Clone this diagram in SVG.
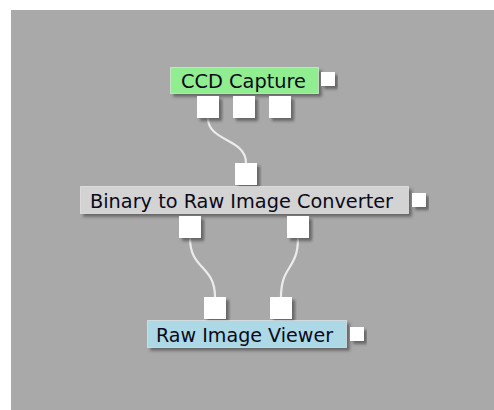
<svg xmlns="http://www.w3.org/2000/svg" width="494" height="410" viewBox="0 0 494 410">
  <defs>
    <filter id="shadow" x="-20%" y="-40%" width="140%" height="180%">
      <feDropShadow dx="3" dy="3" stdDeviation="1.5" flood-color="#4a4a4a" flood-opacity="0.7"/>
    </filter>
    <filter id="soft" x="-20%" y="-20%" width="140%" height="140%">
      <feGaussianBlur stdDeviation="0.5"/>
    </filter>
  </defs>
  <style>
    .node-box { stroke: #ffffff; stroke-opacity: 0.45; stroke-width: 1; filter: url(#shadow); }
    .port { fill: #ffffff; filter: url(#shadow); }
    .label { font-family: "DejaVu Sans", Verdana, sans-serif; font-size: 19px; fill: #0a0a1a; }
    .wire { fill: none; stroke: #ececec; stroke-width: 2.2; filter: url(#soft); }
  </style>

  <!-- canvas -->
  <rect x="11" y="10" width="483" height="400" fill="#a9a9a9"/>

  <!-- connectors -->
  <g id="connectors">
    <path class="wire" d="M208,118 C208,142 246,138 246,163"/>
    <path class="wire" d="M190,238 C190,270 215,265 215,297"/>
    <path class="wire" d="M298,238 C298,270 281,265 281,297"/>
  </g>

  <!-- CCD Capture -->
  <g id="ccd-capture">
    <rect class="node-box" x="170.5" y="67.5" width="148" height="26" fill="#90ee90"/>
    <text class="label" x="181" y="87.5" textLength="125" lengthAdjust="spacingAndGlyphs">CCD Capture</text>
    <rect class="port" x="321" y="72" width="14" height="14"/>
    <rect class="port" x="197" y="96" width="22" height="22"/>
    <rect class="port" x="233" y="96" width="22" height="22"/>
    <rect class="port" x="269" y="96" width="22" height="22"/>
  </g>

  <!-- Binary to Raw Image Converter -->
  <g id="binary-converter">
    <rect class="port" x="235" y="163" width="22" height="22"/>
    <rect class="node-box" x="80.5" y="186.5" width="328" height="27" fill="#d3d3d3"/>
    <text class="label" x="90" y="207.5" textLength="303" lengthAdjust="spacingAndGlyphs">Binary to Raw Image Converter</text>
    <rect class="port" x="412" y="193" width="14" height="14"/>
    <rect class="port" x="179" y="216" width="22" height="22"/>
    <rect class="port" x="287" y="216" width="22" height="22"/>
  </g>

  <!-- Raw Image Viewer -->
  <g id="raw-image-viewer">
    <rect class="port" x="204" y="297" width="22" height="22"/>
    <rect class="port" x="270" y="297" width="22" height="22"/>
    <rect class="node-box" x="147.5" y="320.5" width="199" height="27" fill="#add8e6"/>
    <text class="label" x="156" y="341.5" textLength="177" lengthAdjust="spacingAndGlyphs">Raw Image Viewer</text>
    <rect class="port" x="350" y="327" width="14" height="14"/>
  </g>
</svg>
